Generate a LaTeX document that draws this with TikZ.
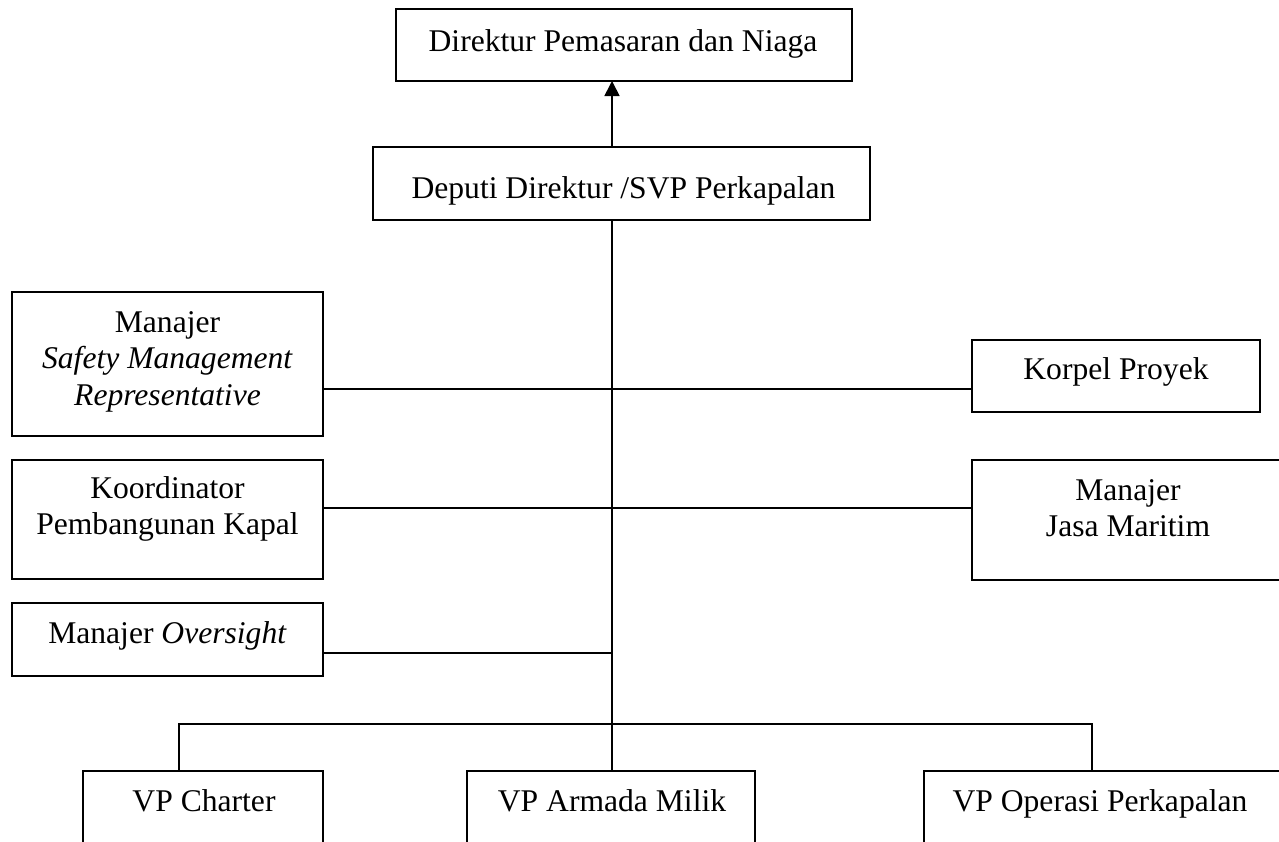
\documentclass[tikz,border=0pt]{standalone}
\usepackage{fontspec}
\setmainfont{Liberation Serif}
\usetikzlibrary{arrows.meta}
\tikzset{
  box/.style={draw, line width=1pt, inner sep=0pt, outer sep=0pt, anchor=center},
  conn/.style={line width=0.85pt},
  txt/.style={anchor=base, inner sep=0pt, font=\fontsize{15.8}{18.25}\selectfont},
}
\newcommand{\mlines}[1]{\begin{tabular}[t]{@{}c@{}}#1\end{tabular}}
\begin{document}
\begin{tikzpicture}[x=0.5pt,y=-0.5pt]
\useasboundingbox (0,0) rectangle (1279,841);
\clip (0,0) rectangle (1279,841);

% boxes
\node[box, minimum width=228pt,   minimum height=36pt]   (top)     at (624,45)    {};
\node[box, minimum width=248.5pt, minimum height=36.5pt] (dep)     at (621.5,183.5) {};
\node[box, minimum width=155.5pt, minimum height=72pt]   (smr)     at (167.5,364) {};
\node[box, minimum width=155.5pt, minimum height=59.5pt] (koor)    at (167.5,519.5) {};
\node[box, minimum width=155.5pt, minimum height=36.5pt] (over)    at (167.5,639.5) {};
\node[box, minimum width=144pt,   minimum height=36pt]   (korpel)  at (1116,376)  {};
\node[box, minimum width=156pt,   minimum height=60pt]   (jasa)    at (1128,520)  {};
\node[box, minimum width=120pt,   minimum height=65pt]   (charter) at (203,836)   {};
\node[box, minimum width=144pt,   minimum height=65pt]   (armada)  at (611,836)   {};
\node[box, minimum width=183pt,   minimum height=65pt]   (operasi) at (1107,836)  {};

% texts
\node[txt] (ttop)     at (623,51)   {Direktur Pemasaran dan Niaga};
\node[txt] (tdep)     at (623.5,198) {Deputi Direktur /SVP Perkapalan};
\node[txt] (tsmr)     at (167.5,332) {\mlines{Manajer\\ \textit{Safety Management}\\ \textit{Representative}}};
\node[txt] (tkoor)    at (167.5,498) {\mlines{Koordinator\\ Pembangunan Kapal}};
\node[txt] (tover)    at (167.5,643) {Manajer \textit{Oversight}};
\node[txt] (tkorpel)  at (1116,379)  {Korpel Proyek};
\node[txt] (tjasa)    at (1128,500)  {\mlines{Manajer\\ Jasa Maritim}};
\node[txt] (tcharter) at (204,811)   {VP Charter};
\node[txt] (tarmada)  at (612,811)   {VP Armada Milik};
\node[txt] (toperasi) at (1100,811)  {VP Operasi Perkapalan};

% helper coordinates
\coordinate (tx) at (612,0);
\coordinate (l1) at (612,389);
\coordinate (l2) at (612,508);
\coordinate (l3) at (612,653);
\coordinate (d1) at (179,724);
\coordinate (d2) at (612,724);
\coordinate (d3) at (1092,724);

% connectors
\draw[conn, -{Triangle[length=7.5pt,width=7.5pt]}] (dep.north -| tx) -- (top.south -| tx);
\draw[conn] (dep.south -| tx) -- (armada.north -| tx);
\draw[conn] (smr.east |- l1) -- (korpel.west |- l1);
\draw[conn] (koor.east |- l2) -- (jasa.west |- l2);
\draw[conn] (over.east |- l3) -- (l3);
\draw[conn] (charter.north -| d1) -- (d1) -- (d3) -- (operasi.north -| d3);
\end{tikzpicture}
\end{document}
